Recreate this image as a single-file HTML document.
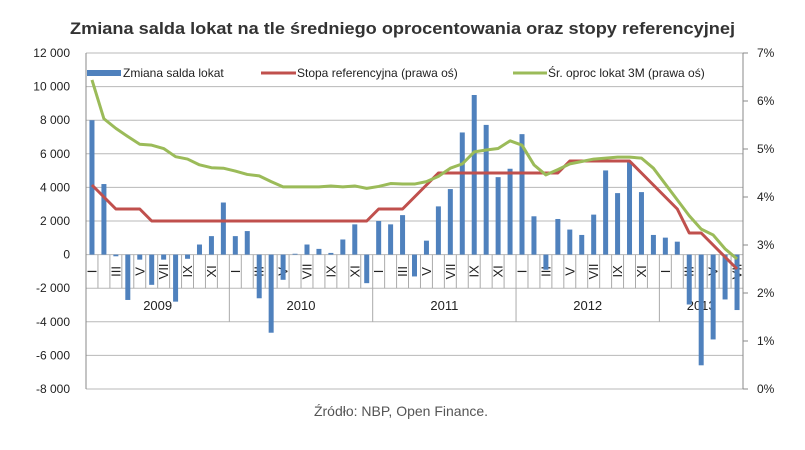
<!DOCTYPE html>
<html><head><meta charset="utf-8">
<style>
html,body{margin:0;padding:0;background:#fff;}
body{width:805px;height:445px;overflow:hidden;font-family:"Liberation Sans",sans-serif;}
svg text{font-family:"Liberation Sans",sans-serif;}
</style></head>
<body>
<svg id="chart" width="805" height="445" viewBox="0 0 805 445">
<text x="70" y="34" textLength="665" lengthAdjust="spacingAndGlyphs" font-size="17" font-weight="bold" fill="#333">Zmiana salda lokat na tle średniego oprocentowania oraz stopy referencyjnej</text>
<g id="grid"></g>
<g id="cats"></g>
<g id="bars"></g>
<g id="lines"></g>
<g id="axes"></g>
<g>
<rect x="87" y="70" width="34" height="6" fill="#4f81bd"/>
<text x="123" y="77" font-size="12" fill="#222">Zmiana salda lokat</text>
<line x1="261" y1="73" x2="296" y2="73" stroke="#c0504d" stroke-width="3"/>
<text x="297" y="77" font-size="12" fill="#222">Stopa referencyjna (prawa oś)</text>
<line x1="513" y1="73" x2="547" y2="73" stroke="#9bbb59" stroke-width="3"/>
<text x="548" y="77" font-size="12" fill="#222">Śr. oproc lokat 3M (prawa oś)</text>
</g>
<text x="401" y="416" text-anchor="middle" font-size="14" fill="#555">Źródło: NBP, Open Finance.</text>
</svg>
<script>
const years = ["2009","2010","2011","2012","2013"];
const monthLabels = ["I","","III","","V","","VII","","IX","","XI",""];
const leftTicks = [12000,10000,8000,6000,4000,2000,0,-2000,-4000,-6000,-8000];
const rightTicks = [7,6,5,4,3,2,1,0];
const deposits = [8000,4200,-100,-2700,-300,-1800,-300,-2800,-250,600,1100,3100,
1100,1400,-2600,-4650,-1500,50,600,340,100,900,1800,-1700,
2000,1800,2350,-1300,830,2870,3900,7270,9500,7720,4610,5110,
7170,2280,-900,2120,1490,1170,2380,5010,3660,5540,3720,1170,
1010,770,-2970,-6590,-5050,-2670,-3300];
const refRate = [4.25,4.0,3.75,3.75,3.75,3.5,3.5,3.5,3.5,3.5,3.5,3.5,
3.5,3.5,3.5,3.5,3.5,3.5,3.5,3.5,3.5,3.5,3.5,3.5,
3.75,3.75,3.75,4.0,4.25,4.5,4.5,4.5,4.5,4.5,4.5,4.5,
4.5,4.5,4.5,4.5,4.75,4.75,4.75,4.75,4.75,4.75,4.5,4.25,
4.0,3.75,3.25,3.25,3.0,2.75,2.5];
const avgRate = [6.44,5.63,5.43,5.26,5.10,5.08,5.01,4.84,4.79,4.67,4.61,4.60,
4.54,4.47,4.44,4.32,4.21,4.21,4.21,4.21,4.23,4.21,4.23,4.18,
4.22,4.28,4.27,4.27,4.32,4.43,4.60,4.69,4.94,4.98,5.01,5.17,
5.08,4.67,4.46,4.57,4.69,4.74,4.79,4.81,4.83,4.83,4.81,4.60,
4.27,3.94,3.61,3.33,3.21,2.92,2.71];

const NS="http://www.w3.org/2000/svg";
const X0=86, X1=743, YT=53, YB=389;
const n=deposits.length, step=(X1-X0)/n;
const yL=v=>YT+(12000-v)/20000*(YB-YT);
const yR=v=>YB-v/7*(YB-YT);
const xC=i=>X0+(i+0.5)*step;
function mk(tag,attrs,parent){const e=document.createElementNS(NS,tag);for(const k in attrs)e.setAttribute(k,attrs[k]);parent.appendChild(e);return e;}
const g=document.getElementById('grid'),cg=document.getElementById('cats'),bg=document.getElementById('bars'),lg=document.getElementById('lines'),ag=document.getElementById('axes');
leftTicks.forEach(v=>{
 const l=mk('line',{x1:X0,x2:X1,y1:yL(v),y2:yL(v),stroke:'#b8b8b8','stroke-width':1},g);
 
 
 const t=mk('text',{x:70,y:yL(v)+4,'text-anchor':'end','font-size':12,fill:'#222'},ag);
 t.textContent=v.toLocaleString('en').replace(/,/g,' ');
 
 
});
rightTicks.forEach(v=>{
 mk('line',{x1:X1,x2:X1+5,y1:yR(v),y2:yR(v),stroke:'#888'},ag);
 const t=mk('text',{x:757,y:yR(v)+4,'font-size':12,fill:'#222'},ag);
 t.textContent=v+'%';
 
 
});
mk('line',{x1:X0,x2:X0,y1:YT,y2:YB,stroke:'#888'},ag);
mk('line',{x1:X1,x2:X1,y1:YT,y2:YB,stroke:'#888'},ag);
const y0=yL(0), yM=yL(-2000), yY=yL(-4000);
for(let i=0;i<=n;i++){
 const x=X0+i*step;
 mk('line',{x1:x,x2:x,y1:y0,y2:(i%12===0||i===n)?yY:yM,stroke:'#aaa'},cg);
}
for(let i=0;i<n;i++){
 const lab=monthLabels[i%12]; if(!lab)continue;
 const t=mk('text',{x:0,y:0,'font-size':13,fill:'#222','text-anchor':'middle',transform:`translate(${xC(i)+4.5},${(y0+yM)/2}) rotate(-90)`},cg);
 t.textContent=lab;
 
 
}
years.forEach((yr,k)=>{
 const a=X0+k*12*step, b=Math.min(X0+(k+1)*12*step,X1);
 const t=mk('text',{x:(a+b)/2,y:(yM+yY)/2+5,'text-anchor':'middle','font-size':13,fill:'#222'},cg);
 t.textContent=yr;
 
 
});
deposits.forEach((v,i)=>{
 const r=mk('rect',{x:xC(i)-2.5,y:Math.min(yL(v),y0),width:5,height:Math.abs(yL(v)-y0),fill:'#4f81bd'},bg);
 
 
});
function line(arr,color,name){
 const p=mk('polyline',{points:arr.map((v,i)=>xC(i)+','+yR(v)).join(' '),fill:'none',stroke:color,'stroke-width':3,'stroke-linejoin':'round'},lg);
 
 
}
line(refRate,'#c0504d','reference-rate-line');
line(avgRate,'#9bbb59','avg-deposit-rate-line');
</script>
</body></html>
